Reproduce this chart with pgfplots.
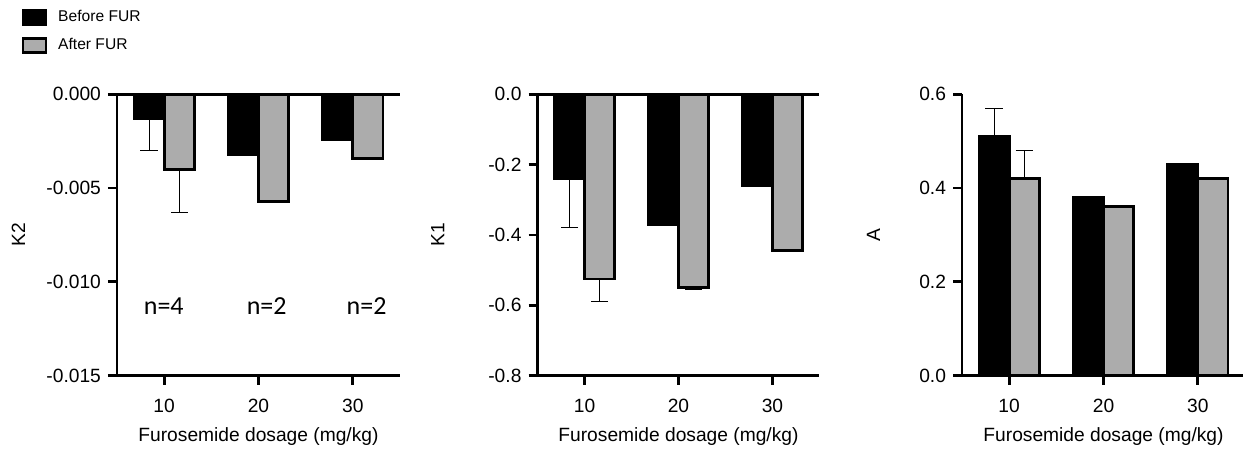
\documentclass[border=0pt]{standalone}
\usepackage{fontspec}
\setmainfont{Liberation Sans}
\newfontfamily\calib{Carlito}
\usepackage{pgfplots}
\usepackage{pgfplotstable}
\pgfplotsset{compat=1.18}
\definecolor{barfill}{RGB}{172,172,172}

% x = group (10, 20, 30 mg/kg), b/eb = before FUR, a/ea = after FUR
\pgfplotstableread{
x b eb a ea
1 -0.0013 0.0017 -0.0040 0.0023
2 -0.0032 0 -0.0057 0
3 -0.0024 0 -0.0034 0.0001
}\ktwo
\pgfplotstableread{
x b eb a ea
1 -0.24 0.14 -0.525 0.065
2 -0.37 0 -0.55 0.004
3 -0.26 0 -0.445 0
}\kone
\pgfplotstableread{
x b eb a ea
1 0.51 0.06 0.42 0.06
2 0.38 0 0.36 0
3 0.45 0 0.42 0
}\adata

\pgfplotsset{
  panel/.style={
    scale only axis, width=141.5pt, height=140.7pt, anchor=south west,
    axis x line*=bottom, axis y line*=left,
    axis line style={-, line width=1.4pt},
    xmin=0.5, xmax=3.5, xtick={1,2,3}, xticklabels={10,20,30},
    tick align=outside, major tick length=4.5pt,
    tick style={line width=1.4pt, black},
    ybar, bar width=0.32,
    ticklabel style={font=\fontsize{9.6}{11}\selectfont},
    xticklabel style={yshift=-3.5pt},
    /pgf/number format/assume math mode=true,
    scaled y ticks=false,
    label style={font=\fontsize{9.6}{11}\selectfont},
    xlabel={Furosemide dosage (mg/kg)},
    xlabel style={at={(axis description cs:0.5,-0.216)}, anchor=center},
    clip=false,
  },
  before/.style={fill=black, draw=black, line width=1.45pt, bar shift=-0.16,
    error bars/error bar style={line width=0.5pt, black},
    error bars/error mark options={rotate=90, mark size=4.3pt, line width=0.5pt, black}},
  after/.style={fill=barfill, draw=black, line width=1.45pt, bar shift=0.16,
    error bars/error bar style={line width=0.5pt, black},
    error bars/error mark options={rotate=90, mark size=4.3pt, line width=0.5pt, black}},
}

\begin{document}
\begin{tikzpicture}
\useasboundingbox (0,0) rectangle (621.5pt,224.5pt);

\begin{axis}[panel, at={(58.5pt,36.65pt)},
    ymin=-0.015, ymax=0, ytick={-0.015,-0.01,-0.005,0},
    yticklabel style={/pgf/number format/.cd, fixed, fixed zerofill, precision=3},
    ylabel={K2}, ylabel style={at={(axis description cs:-0.348,0.5)}, anchor=center},
    legend image code/.code={\draw[#1, line width=1.3pt] (0pt,-3.5pt) rectangle (11.5pt,3.5pt);},
    legend style={draw=none, fill=none, inner sep=0pt, outer sep=0pt,
      at={(axis description cs:-0.337,1.302)}, anchor=north west,
      font=\fontsize{7.8}{9}\selectfont, row sep=5.6pt, nodes={inner sep=0pt},
      /tikz/every odd column/.append style={column sep=5.5pt}},
    legend cell align=left,
  ]
  \addplot[before, error bars/.cd, y dir=minus, y explicit] table[x=x, y=b, y error=eb] {\ktwo};
  \addlegendentry{Before FUR}
  \addplot[after, error bars/.cd, y dir=minus, y explicit] table[x=x, y=a, y error=ea] {\ktwo};
  \addlegendentry{After FUR}
  \draw[line width=1.4pt] (rel axis cs:0,1) -- (rel axis cs:1,1);
  \node[font=\calib\fontsize{13}{15}\selectfont] at (axis cs:0.996,-0.01127) {n=4};
  \node[font=\calib\fontsize{13}{15}\selectfont] at (axis cs:2.087,-0.01127) {n=2};
  \node[font=\calib\fontsize{13}{15}\selectfont] at (axis cs:3.146,-0.01127) {n=2};
\end{axis}

\begin{axis}[panel, at={(268.75pt,36.65pt)}, width=141pt,
    ymin=-0.8, ymax=0, ytick={-0.8,-0.6,-0.4,-0.2,0},
    yticklabel style={/pgf/number format/.cd, fixed, fixed zerofill, precision=1},
    ylabel={K1}, ylabel style={at={(axis description cs:-0.354,0.5)}, anchor=center},
  ]
  \addplot[before, error bars/.cd, y dir=minus, y explicit] table[x=x, y=b, y error=eb] {\kone};
  \addplot[after, error bars/.cd, y dir=minus, y explicit] table[x=x, y=a, y error=ea] {\kone};
  \draw[line width=1.4pt] (rel axis cs:0,1) -- (rel axis cs:1,1);
\end{axis}

\begin{axis}[panel, at={(481pt,36.65pt)},
    ymin=0, ymax=0.6, ytick={0,0.2,0.4,0.6},
    yticklabel style={/pgf/number format/.cd, fixed, fixed zerofill, precision=1},
    ylabel={A}, ylabel style={at={(axis description cs:-0.313,0.5)}, anchor=center},
  ]
  \addplot[before, error bars/.cd, y dir=plus, y explicit] table[x=x, y=b, y error=eb] {\adata};
  \addplot[after, error bars/.cd, y dir=plus, y explicit] table[x=x, y=a, y error=ea] {\adata};
\end{axis}
\end{tikzpicture}
\end{document}
